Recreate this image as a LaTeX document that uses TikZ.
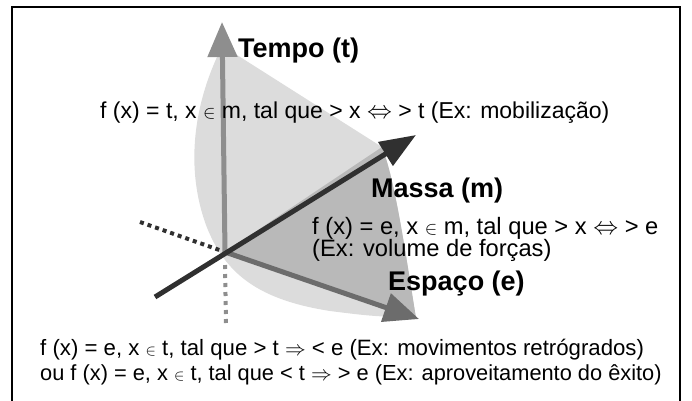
\documentclass[tikz,border=0pt]{standalone}
\usepackage{fontspec}
\setmainfont{Liberation Sans}
\usetikzlibrary{arrows.meta}

\definecolor{shadelight}{HTML}{DCDCDC}
\definecolor{shadedark}{HTML}{B9B9B9}
\definecolor{tempogray}{HTML}{8E8E8E}
\definecolor{massagray}{HTML}{303030}
\definecolor{espacogray}{HTML}{6C6C6C}

\newcommand{\elem}{\scalebox{0.75}{$\in$}}

\begin{document}
\begin{tikzpicture}[
      x=1pt, y=-1pt,
      txt/.style={anchor=base west, inner sep=0pt, font=\fontsize{23}{26}\selectfont},
      axlabel/.style={anchor=base west, inner sep=0pt, font=\fontsize{27}{30}\selectfont\bfseries},
      axarr/.style={line width=5pt, -{Triangle[length=35pt, width=29pt]}},
      dots/.style={line width=4pt, dash pattern=on 4pt off 4pt}
    ]
      \useasboundingbox (0,0) rectangle (692,400);
      \draw[line width=2pt] (12,7) rectangle (680,405);

      \coordinate (o) at (225,252);
      \coordinate (ttip) at (222,22);
      \coordinate (mtail) at (155,297);
      \coordinate (mtip) at (416,135);
      \coordinate (etip) at (419,319);
      \coordinate (dl) at (140,222);
      \coordinate (dd) at (226,324);

      % shaded surfaces
      \fill[shadelight] (217,57) .. controls (193,110) and (186,170) .. (206,225)
        .. controls (225,275) and (260,300) .. (330,311) .. controls (370,316) .. (416,318)
        .. controls (405,250) and (395,180) .. (382,147) -- (237,55) -- cycle;
      \fill[shadedark] (o) -- (382,147) .. controls (395,180) and (405,250) .. (416,318) -- cycle;

      \draw[dots, massagray] (dl) -- (o);
      \draw[dots, tempogray, dash pattern=on 4pt off 5pt] ([yshift=-13pt]o) -- (dd);

      \draw[axarr, tempogray] (o) -- (ttip);
      \draw[axarr, espacogray] (o) -- (etip);
      \draw[axarr, massagray, -{Triangle[length=36pt, width=27pt]}] (mtail) -- (mtip);

      \node[axlabel] (tempo) at (238,57) {Tempo (t)};
      \node[txt] (ft) at (100,118) {f (x) = t, x \elem{} m, tal que > x $\Leftrightarrow$ > t (Ex: mobilização)};
      \node[axlabel] (massa) at (371,197) {Massa (m)};
      \node[txt, font=\fontsize{23.7}{26}\selectfont] (fm1) at (312,234) {f (x) = e, x \elem{} m, tal que > x $\Leftrightarrow$ > e};
      \node[txt, font=\fontsize{23.7}{26}\selectfont] (fm2) at (312,256) {(Ex: volume de forças)};
      \node[axlabel] (espaco) at (388,290) {Espaço (e)};
      \node[txt, font=\fontsize{22.2}{25}\selectfont] (fe1) at (40,355) {f (x) = e, x \elem{} t, tal que > t $\Rightarrow$ < e (Ex: movimentos retrógrados)};
      \node[txt, font=\fontsize{21.8}{25}\selectfont] (fe2) at (40,380) {ou f (x) = e, x \elem{} t, tal que < t $\Rightarrow$ > e (Ex: aproveitamento do êxito)};
    \end{tikzpicture}
\end{document}
